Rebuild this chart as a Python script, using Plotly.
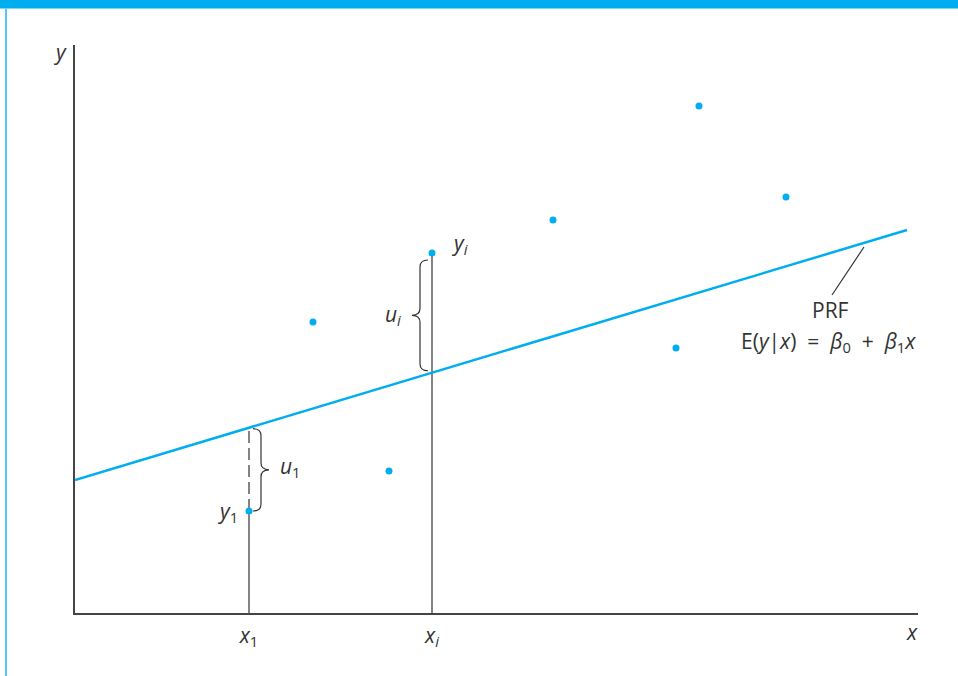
import plotly.graph_objects as go

obs_x = [174, 357, 238, 314, 478, 624, 711, 601]
obs_y = [102, 360, 291, 142, 393, 507, 416, 265]

# population regression function endpoints
prf_x = [0, 832]
prf_y = [133, 383]

# the two labelled observations: x1 and xi
x1, y1 = obs_x[0], obs_y[0]
xi, yi = obs_x[1], obs_y[1]

tick_vals = [x1, xi]
tick_text = ["<i>x</i><sub>1</sub>", "<i>x</i><sub><i>i</i></sub>"]

CYAN = "#00aeef"
INK = "#333333"
FONT = "Open Sans"


def prf_at(x):
    slope = (prf_y[1] - prf_y[0]) / (prf_x[1] - prf_x[0])
    return prf_y[0] + slope * (x - prf_x[0])


def brace(x0, ytop, ybot, w):
    # curly brace drawn as an svg path, opening toward x0
    xm = x0 + w / 2
    ym = (ytop + ybot) / 2
    q = 7
    return (f"M {x0},{ytop} Q {xm},{ytop} {xm},{ytop - q} "
            f"L {xm},{ym + q} Q {xm},{ym} {x0 + w},{ym} "
            f"Q {xm},{ym} {xm},{ym - q} "
            f"L {xm},{ybot + q} Q {xm},{ybot} {x0},{ybot}")


fig = go.Figure()

# vertical guides
fig.add_trace(go.Scatter(x=[x1, x1], y=[0, y1], mode="lines",
                         line=dict(color=INK, width=1.2), hoverinfo="skip"))
fig.add_trace(go.Scatter(x=[x1, x1], y=[y1, prf_at(x1)], mode="lines",
                         line=dict(color=INK, width=1.2, dash="12px,5px"), hoverinfo="skip"))
fig.add_trace(go.Scatter(x=[xi, xi], y=[0, yi], mode="lines",
                         line=dict(color=INK, width=1.2), hoverinfo="skip"))

# PRF line
fig.add_trace(go.Scatter(x=prf_x, y=prf_y, mode="lines",
                         line=dict(color=CYAN, width=2.5)))

# points
fig.add_trace(go.Scatter(x=obs_x, y=obs_y, mode="markers",
                         marker=dict(color=CYAN, size=7)))

# braces
fig.add_shape(type="path", xref="x", yref="y",
              path=brace(x1 + 4, prf_at(x1) - 1, y1, 16),
              line=dict(color=INK, width=1.2))
fig.add_shape(type="path", xref="x", yref="y",
              path=brace(xi - 4, yi - 7, prf_at(xi) + 2, -16),
              line=dict(color=INK, width=1.2))

# PRF leader line
fig.add_shape(type="line", xref="x", yref="y", x0=789, y0=366, x1=757, y1=318,
              line=dict(color=INK, width=1.2))

# frame: top bar and left border
fig.add_shape(type="rect", xref="paper", yref="paper",
              x0=-0.2, x1=1.1, y0=(613 - 8.5) / 568, y1=(613 + 2) / 568,
              fillcolor=CYAN, line=dict(width=0), layer="above")
fig.add_shape(type="line", xref="paper", yref="paper",
              x0=(6 - 75) / 843, x1=(6 - 75) / 843, y0=-0.2, y1=(613 - 8.5) / 568,
              line=dict(color="#55c8f2", width=2))

txt = dict(family=FONT, size=21, color=INK)
sp = "&nbsp;&nbsp;"
labels = [
    (152, 101, "<i>y</i><sub>1</sub>"),
    (384, 369, "<i>y</i><sub><i>i</i></sub>"),
    (215, 146, "<i>u</i><sub>1</sub>"),
    (318, 298, "<i>u</i><sub><i>i</i></sub>"),
    (755, 303, "PRF"),
    (753, 271, "E(<i>y</i>|<i>x</i>)" + sp + "=" + sp + "<i>β</i><sub>0</sub>"
     + sp + "+" + sp + "<i>β</i><sub>1</sub><i>x</i>"),
]
for lx, ly, lt in labels:
    fig.add_annotation(x=lx, y=ly, xref="x", yref="y", text=lt,
                       showarrow=False, font=txt,
                       xanchor="center", yanchor="middle")

# axis names sit outside the data range, so place them on paper
fig.add_annotation(x=(60 - 75) / 843, y=(613 - 52) / 568, xref="paper", yref="paper",
                   text="<i>y</i>", showarrow=False, font=txt,
                   xanchor="center", yanchor="middle")
fig.add_annotation(x=(912 - 75) / 843, y=(613 - 632) / 568, xref="paper", yref="paper",
                   text="<i>x</i>", showarrow=False, font=txt,
                   xanchor="center", yanchor="middle")

fig.update_xaxes(range=[0, 843], showgrid=False, zeroline=False,
                 showline=True, linecolor="#444444", linewidth=1.5,
                 tickvals=tick_vals, ticktext=tick_text, ticks="",
                 tickfont=txt, ticklabelstandoff=3)
fig.update_yaxes(range=[0, 568], showgrid=False, zeroline=False,
                 showline=True, linecolor="#444444", linewidth=1.5,
                 showticklabels=False, ticks="")

fig.update_layout(width=958, height=676, showlegend=False,
                  plot_bgcolor="white", paper_bgcolor="white",
                  margin=dict(l=75, r=40, t=45, b=63))

fig.write_html("out.html", config={"displayModeBar": False},
               post_script="document.body.style.margin='0';")
